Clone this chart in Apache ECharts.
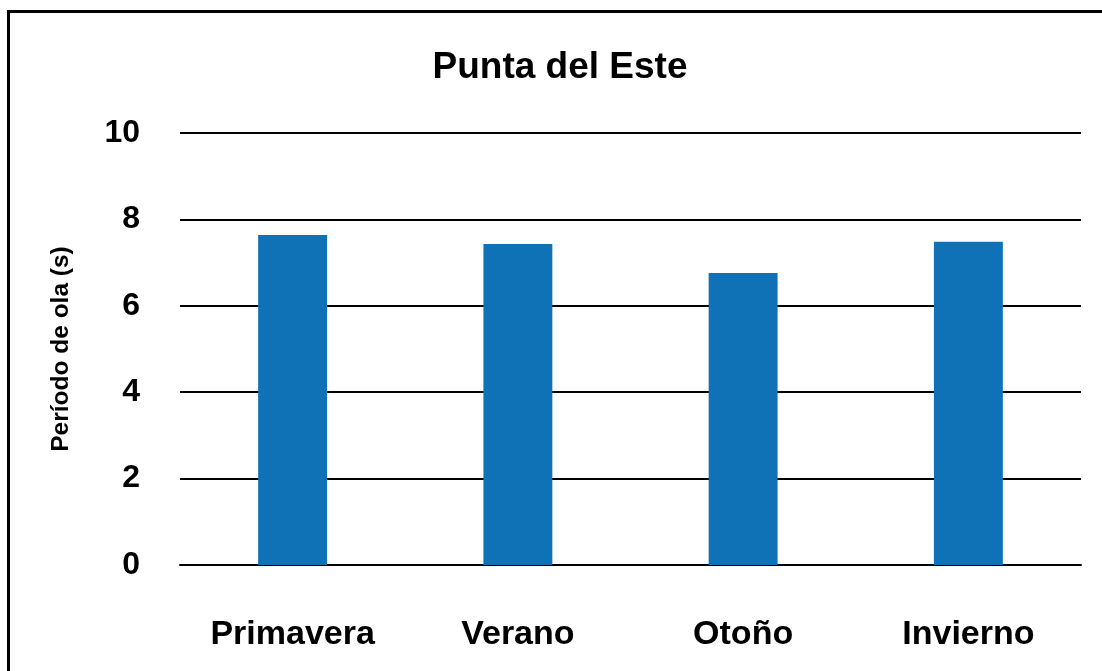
<!DOCTYPE html>
<html lang="es">
<head>
    <meta charset="UTF-8">
    <title>Punta del Este</title>
    <script src="https://cdn.jsdelivr.net/npm/echarts@6/dist/echarts.min.js"></script>
    <style>
        html, body { margin: 0; padding: 0; background: #ffffff; }
        #main { width: 1102px; height: 671px; }
    </style>
</head>
<body>
<div id="main"></div>
<script type="text/javascript">
    // datos
    var estaciones = ['Primavera', 'Verano', 'Otoño', 'Invierno'];
    var periodo = [7.64, 7.43, 6.76, 7.48];
    var ticksY = [0, 2, 4, 6, 8, 10];

    var chart = echarts.init(document.getElementById('main'));
    var fuente = 'Liberation Sans, Arial, sans-serif';

    var option = {
        backgroundColor: '#ffffff',
        animation: false,
        title: {
            text: 'Punta del Este',
            left: 555,
            top: 44,
            textAlign: 'center',
            textStyle: { fontFamily: fuente, fontSize: 37, fontWeight: 'bold', color: '#000' }
        },
        // marco negro del gráfico
        graphic: [{
            type: 'rect',
            shape: { x: 8.5, y: 11.5, width: 1200, height: 800 },
            style: { fill: 'none', stroke: '#000', lineWidth: 3 },
            silent: true
        }],
        grid: { left: 180, right: 21, top: 133, bottom: 106 },
        xAxis: {
            type: 'category',
            data: estaciones,
            axisLine: { show: true, lineStyle: { color: '#000', width: 2 } },
            axisTick: { show: false },
            axisLabel: {
                margin: 53,
                fontFamily: fuente, fontSize: 34, fontWeight: 'bold', color: '#000'
            }
        },
        yAxis: {
            type: 'value',
            min: ticksY[0],
            max: ticksY[ticksY.length - 1],
            interval: 2,
            name: 'Período de ola (s)',
            nameLocation: 'middle',
            nameGap: 106,
            nameTextStyle: { fontFamily: fuente, fontSize: 24.5, fontWeight: 'bold', color: '#000' },
            axisLine: { show: false },
            axisTick: { show: false },
            splitLine: { lineStyle: { color: '#000', width: 2 } },
            axisLabel: {
                margin: 40,
                fontFamily: fuente, fontSize: 32, fontWeight: 'bold', color: '#000'
            }
        },
        series: [{
            type: 'bar',
            data: periodo,
            barWidth: '30.6%',
            itemStyle: { color: '#0f72b6' }
        }]
    };

    chart.setOption(option);
</script>
</body>
</html>
